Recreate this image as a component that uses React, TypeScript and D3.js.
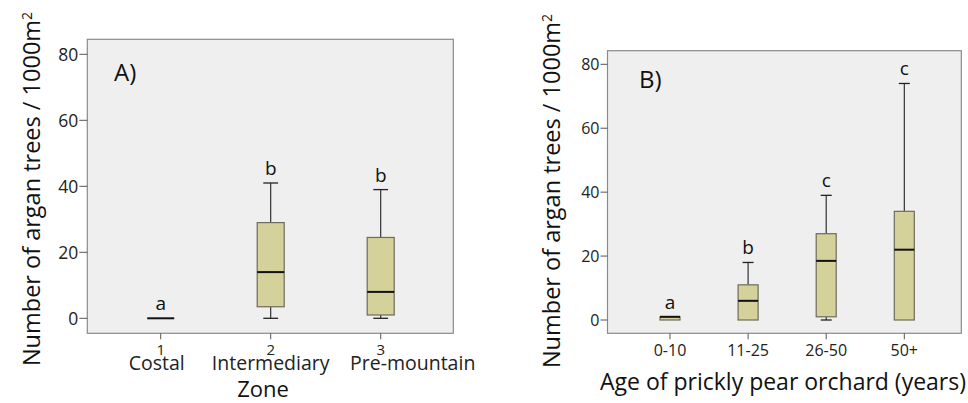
import React from "react";
import * as d3 from "d3";

// ---------- Data ----------
const zoneCategories = ["1", "2", "3"];
const zoneNames = ["Costal", "Intermediary", "Pre-mountain"];
const zoneMin = [0, 0, 0];
const zoneQ1 = [0, 3.5, 1];
const zoneMedian = [0, 14, 8];
const zoneQ3 = [0, 29, 24.5];
const zoneMax = [0, 41, 39];
const zoneLetters = ["a", "b", "b"];

const ageCategories = ["0-10", "11-25", "26-50", "50+"];
const ageMin = [0, 0, 0, 0];
const ageQ1 = [0, 0, 1, 0];
const ageMedian = [1, 6, 18.5, 22];
const ageQ3 = [1, 11, 27, 34];
const ageMax = [1, 18, 39, 74];
const ageLetters = ["a", "b", "c", "c"];

const yTicks = [0, 20, 40, 60, 80];

const FONT = "'Open Sans', 'Noto Sans', sans-serif";
const FILL = "#d5d19b";
const BG = "#efefef";

type PanelProps = {
  cats: string[];
  names?: string[];
  nameDx?: number[];
  min: number[];
  q1: number[];
  med: number[];
  q3: number[];
  max: number[];
  letters: string[];
  x0: number; x1: number; y0: number; y1: number;
  xr0: number; xr1: number;
  yZero: number; yEighty: number;
  boxW: number;
  tickLen: number;
  tag: string;
  tagX: number; tagY: number;
  xTitle: string;
  xTitleX: number; xTitleY: number; xTitleSize: number;
  yTitleX: number; yTitleY: number; yTitleSize: number;
  catY: number; nameY: number; catSize: number;
  tickSize: number;
};

function Panel(p: PanelProps) {
  const k = (p.yZero - p.yEighty) / 80;
  const y = d3.scaleLinear()
    .domain([(p.yZero - p.y1) / k, (p.yZero - p.y0) / k])
    .range([p.y1, p.y0]);
  const x = d3.scalePoint<string>().domain(p.cats).range([p.xr0, p.xr1]);
  const cap = p.boxW * 0.55;
  return (
    <g>
      <rect x={p.x0} y={p.y0} width={p.x1 - p.x0} height={p.y1 - p.y0} fill={BG} stroke="#8a8a8a" strokeWidth={1.2} />
      {yTicks.map((t) => (
        <g key={t}>
          <line x1={p.x0 - p.tickLen} x2={p.x0} y1={y(t)} y2={y(t)} stroke="#555" strokeWidth={1} />
          <text x={p.x0 - p.tickLen - 1} y={y(t)} dy="0.36em" textAnchor="end" fontSize={p.tickSize} fontFamily={FONT} fill="#222">{t}</text>
        </g>
      ))}
      {p.cats.map((c, i) => {
        const cx = x(c) as number;
        const hw = p.boxW / 2;
        const isFlat = p.q3[i] === p.q1[i] && p.max[i] === p.min[i];
        return (
          <g key={c}>
            <line x1={cx} x2={cx} y1={p.y1} y2={p.y1 + 6} stroke="#555" strokeWidth={1} />
            {!isFlat && p.max[i] > p.q3[i] && (
              <>
                <line x1={cx} x2={cx} y1={y(p.max[i])} y2={y(p.q3[i])} stroke="#222" strokeWidth={1.1} />
                <line x1={cx - cap / 2} x2={cx + cap / 2} y1={y(p.max[i])} y2={y(p.max[i])} stroke="#222" strokeWidth={1.3} />
              </>
            )}
            {!isFlat && p.min[i] < p.q1[i] && (
              <>
                <line x1={cx} x2={cx} y1={y(p.q1[i])} y2={y(p.min[i])} stroke="#222" strokeWidth={1.1} />
                <line x1={cx - cap / 2} x2={cx + cap / 2} y1={y(p.min[i])} y2={y(p.min[i])} stroke="#222" strokeWidth={1.3} />
              </>
            )}
            {p.q3[i] > p.q1[i] && (
              <rect x={cx - hw} y={y(p.q3[i])} width={p.boxW} height={y(p.q1[i]) - y(p.q3[i])} fill={FILL} stroke="#6d6b5c" strokeWidth={1.2} />
            )}
            <line x1={cx - hw} x2={cx + hw} y1={y(p.med[i])} y2={y(p.med[i])} stroke="#111" strokeWidth={2} />
            <text x={cx} y={y(p.max[i]) - 8} textAnchor="middle" fontSize={19} fontFamily={FONT} fill="#111">{p.letters[i]}</text>
            <text x={cx} y={p.catY} textAnchor="middle" fontSize={p.catSize} fontFamily={FONT} fill="#222">{c}</text>
            {p.names && (
              <text x={cx + (p.nameDx ? p.nameDx[i] : 0)} y={p.nameY} textAnchor="middle" fontSize={19.5} fontFamily={FONT} fill="#222">{p.names[i]}</text>
            )}
          </g>
        );
      })}
      <text x={p.tagX} y={p.tagY} dy="0.35em" fontSize={24} fontFamily={FONT} fill="#111">{p.tag}</text>
      <text x={p.xTitleX} y={p.xTitleY} textAnchor="middle" fontSize={p.xTitleSize} fontFamily={FONT} fill="#111">{p.xTitle}</text>
      <text transform={`translate(${p.yTitleX},${p.yTitleY}) rotate(-90)`} dy="0.35em" textAnchor="middle" fontSize={p.yTitleSize} fontFamily={FONT} fill="#111">
        Number of argan trees / 1000m<tspan dy="-0.6em" fontSize={14}>2</tspan>
      </text>
    </g>
  );
}

export default function App() {
  return (
    <svg width={968} height={403} style={{ position: "absolute", left: 0, top: 0, background: "#fff" }}>
      <Panel
        cats={zoneCategories} names={zoneNames} nameDx={[-4, 0, 32]}
        min={zoneMin} q1={zoneQ1} med={zoneMedian} q3={zoneQ3} max={zoneMax} letters={zoneLetters}
        x0={87.3} x1={453.3} y0={39.3} y1={333.3}
        xr0={160.7} xr1={380.7}
        yZero={318.3} yEighty={54.3}
        boxW={27} tickLen={8}
        tag="A)" tagX={114} tagY={73}
        xTitle="Zone" xTitleX={263} xTitleY={396.5} xTitleSize={22}
        yTitleX={32} yTitleY={189} yTitleSize={23.5}
        catY={354.5} nameY={370} catSize={15}
        tickSize={17.5}
      />
      <Panel
        cats={ageCategories}
        min={ageMin} q1={ageQ1} med={ageMedian} q3={ageQ3} max={ageMax} letters={ageLetters}
        x0={607.5} x1={961.3} y0={50.7} y1={333.3}
        xr0={670} xr1={904.3}
        yZero={320} yEighty={64.3}
        boxW={20} tickLen={7}
        tag="B)" tagX={639} tagY={80}
        xTitle="Age of prickly pear orchard (years)" xTitleX={783} xTitleY={390} xTitleSize={23}
        yTitleX={552} yTitleY={191} yTitleSize={23.5}
        catY={356} nameY={0} catSize={16}
        tickSize={16}
      />
    </svg>
  );
}
